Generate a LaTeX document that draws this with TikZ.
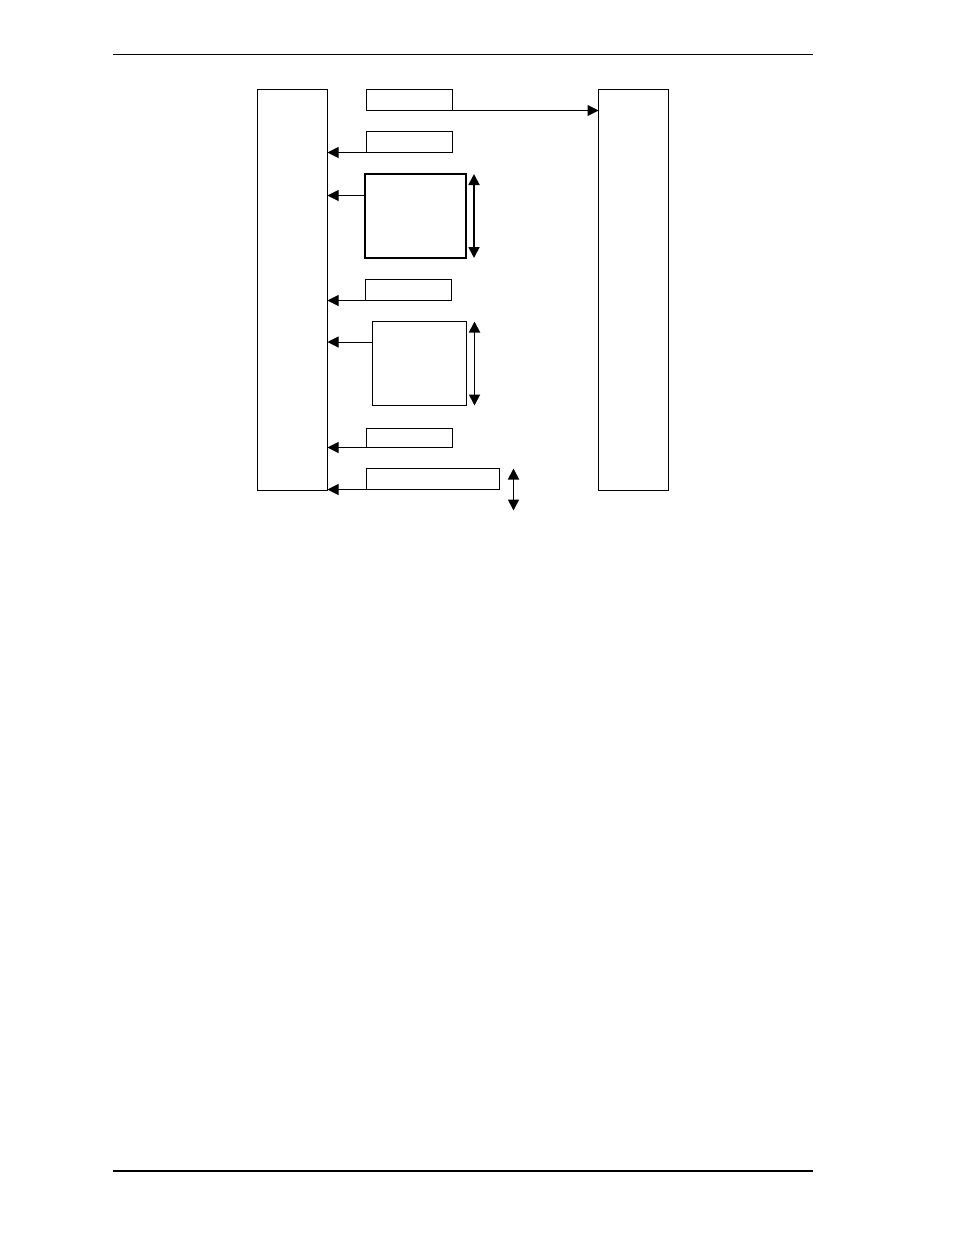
\documentclass[tikz,border=0pt]{standalone}
\usetikzlibrary{arrows.meta}
\begin{document}
\begin{tikzpicture}[x=1pt,y=-1pt,
  box/.style={draw,line width=1pt,inner sep=0pt,outer sep=0pt,anchor=north west},
  bigbox/.style={box,line width=1.6pt},
  conn/.style={line width=1pt,-{Triangle[length=11pt,width=11pt]}},
  dbl/.style={line width=1.8pt,{Triangle[length=11pt,width=11pt]}-{Triangle[length=11pt,width=11pt]}}]
\useasboundingbox (0,0) rectangle (954,1235);
% page rules
\coordinate (h1) at (113,54.3);
\coordinate (h2) at (813,54.3);
\coordinate (f1) at (113,1170.7);
\coordinate (f2) at (813,1170.7);
\draw[line width=1pt] (h1) -- (h2);
\draw[line width=2pt] (f1) -- (f2);
% main columns
\node[box,minimum width=70pt,minimum height=401pt] (L) at (257.5,89.5) {};
\node[box,minimum width=70pt,minimum height=401pt] (R) at (598.5,89.5) {};
% small boxes
\node[box,minimum width=86pt,minimum height=21pt] (b1) at (366.5,89.5) {};
\node[box,minimum width=86pt,minimum height=21pt] (b2) at (366.5,131.5) {};
\node[bigbox,minimum width=101pt,minimum height=84pt] (b3) at (365,174) {};
\node[box,minimum width=86pt,minimum height=21pt] (b4) at (365,279.5) {};
\node[bigbox,minimum width=94pt,minimum height=84pt] (b5) at (372.5,321.5) {};
\node[box,minimum width=86pt,minimum height=19pt] (b6) at (366.5,428.5) {};
\node[box,minimum width=133pt,minimum height=21pt] (b7) at (366.5,468.5) {};
% connectors
\draw[conn] (b1.south east) -- (R.west |- b1.south east);
\draw[conn] (b2.south west) -- (L.east |- b2.south west);
\coordinate (b3a) at ([yshift=-21.5pt]b3.north west);
\draw[conn] (b3a) -- (L.east |- b3a);
\draw[conn] (b4.south west) -- (L.east |- b4.south west);
\coordinate (b5a) at ([yshift=-20.5pt]b5.north west);
\draw[conn] (b5a) -- (L.east |- b5a);
\draw[conn] (b6.south west) -- (L.east |- b6.south west);
\draw[conn] (b7.south west) -- (L.east |- b7.south west);
% vertical double arrows
\coordinate (d3t) at ([xshift=8pt]b3.north east);
\coordinate (d3b) at ([xshift=8pt]b3.south east);
\draw[dbl] (d3t) -- (d3b);
\coordinate (d5t) at ([xshift=8pt]b5.north east);
\coordinate (d5b) at ([xshift=8pt]b5.south east);
\draw[dbl] (d5t) -- (d5b);
\coordinate (d7t) at ([xshift=14pt]b7.north east);
\coordinate (d7b) at ([xshift=14pt,yshift=-21pt]b7.south east);
\draw[dbl] (d7t) -- (d7b);
\end{tikzpicture}
\end{document}
